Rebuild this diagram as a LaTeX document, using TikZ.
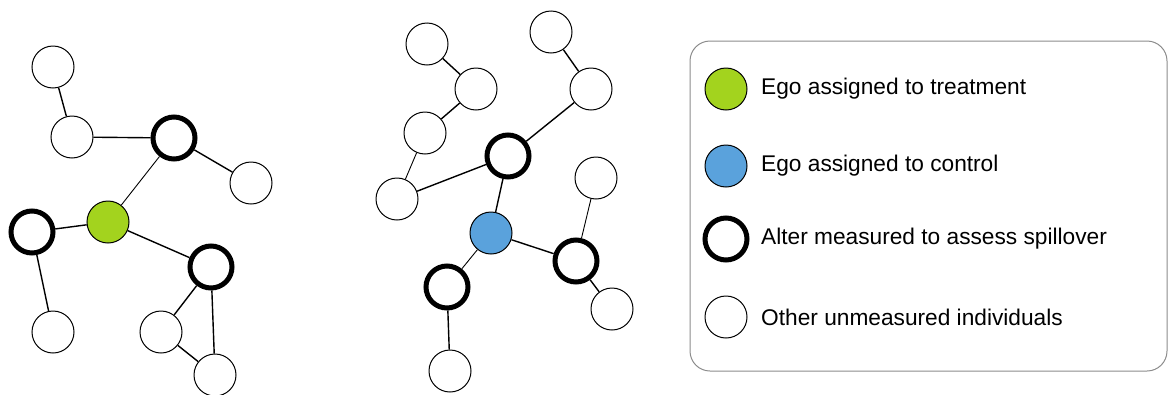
\documentclass[tikz,border=0pt]{standalone}
\usepackage{fontspec}
\setmainfont{Liberation Sans}
\definecolor{egogreen}{RGB}{163,211,30}
\definecolor{egoblue}{RGB}{90,162,220}
\definecolor{boxgray}{RGB}{140,140,140}
\begin{document}
\begin{tikzpicture}[x=1pt,y=-1pt,
  person/.style={circle,draw=black,line width=1pt,fill=white,minimum size=42pt,inner sep=0pt},
  alter/.style={person,line width=5pt},
  treated/.style={person,fill=egogreen},
  control/.style={person,fill=egoblue},
  tie/.style={line width=1.4pt},
  thintie/.style={line width=0.9pt},
  legtext/.style={anchor=west,font=\fontsize{22.7}{26}\selectfont,inner sep=0pt}]
\useasboundingbox (0,0) rectangle (1169,394);
% left network
\node[person] (a) at (53,67) {};
\node[person] (b) at (72,137) {};
\node[alter] (c) at (174,138) {};
\node[person] (d) at (251,183) {};
\node[alter] (e) at (32,232) {};
\node[treated] (g) at (108,222) {};
\node[alter] (f) at (211,267) {};
\node[person] (h) at (53,332) {};
\node[person] (i) at (161,332) {};
\node[person] (j) at (215,375) {};
\draw[tie] (a) -- (b);
\draw[tie] (b) -- (c);
\draw[tie] (c) -- (d);
\draw[thintie] (c) -- (g);
\draw[tie] (g) -- (e);
\draw[tie] (g) -- (f);
\draw[tie] (e) -- (h);
\draw[tie] (f) -- (i);
\draw[tie] (f) -- (j);
\draw[tie] (i) -- (j);
% middle network
\node[person] (m1) at (427,44) {};
\node[person] (m2) at (476,89) {};
\node[person] (m3) at (551,32) {};
\node[person] (m4) at (591,89) {};
\node[person] (m5) at (425,133) {};
\node[alter] (m6) at (508,156) {};
\node[person] (m7) at (397,199) {};
\node[person] (m8) at (596,178) {};
\node[control] (bl) at (491,233) {};
\node[alter] (m9) at (576,261) {};
\node[alter] (m10) at (447,287) {};
\node[person] (m11) at (612,309) {};
\node[person] (m12) at (450,371) {};
\draw[tie] (m1) -- (m2);
\draw[tie] (m2) -- (m5);
\draw[thintie] (m5) -- (m7);
\draw[tie] (m7) -- (m6);
\draw[tie] (m6) -- (m4);
\draw[tie] (m3) -- (m4);
\draw[tie] (m6) -- (bl);
\draw[tie] (bl) -- (m9);
\draw[thintie] (m9) -- (m8);
\draw[tie] (m9) -- (m11);
\draw[thintie] (bl) -- (m10);
\draw[tie] (m10) -- (m12);
% legend
\draw[boxgray,line width=1pt,rounded corners=20pt] (690,41) rectangle (1167,371);
\node[treated] (l1) at (726,89) {};
\node[control] (l2) at (726,166) {};
\node[alter] (l3) at (726,239) {};
\node[person] (l4) at (726,317) {};
\node[legtext] (t1) at (761,89) {Ego assigned to treatment};
\node[legtext] (t2) at (761,166) {Ego assigned to control};
\node[legtext] (t3) at (761,239) {Alter measured to assess spillover};
\node[legtext] (t4) at (761,317) {Other unmeasured individuals};
\end{tikzpicture}
\end{document}
